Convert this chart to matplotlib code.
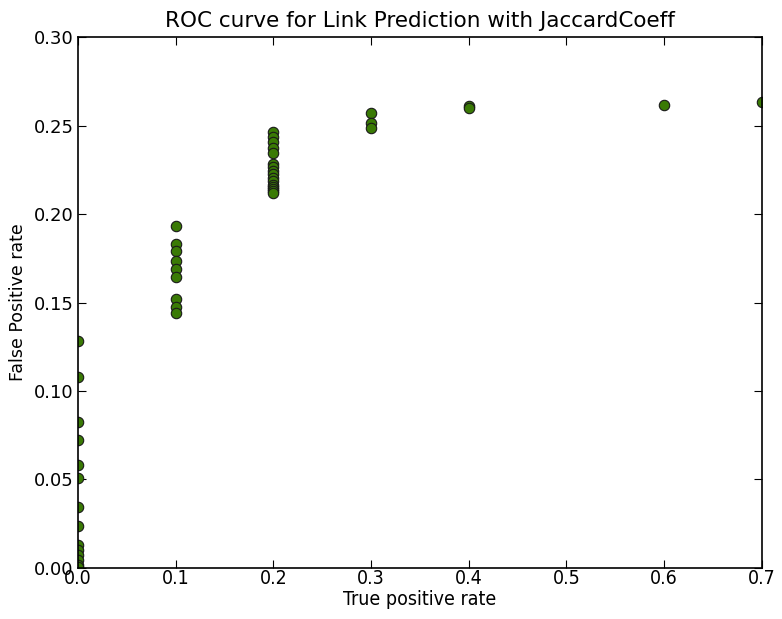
import matplotlib
matplotlib.use('Agg')
import matplotlib.pyplot as plt

# ROC points: (true positive rate, false positive rate) grouped by TPR level
tpr_0 = [0.0] * 14
fpr_0 = [0.128, 0.108, 0.0825, 0.0725, 0.058, 0.051, 0.0345, 0.0235,
         0.013, 0.010, 0.0073, 0.0045, 0.0017, 0.0005]

tpr_1 = [0.1] * 9
fpr_1 = [0.1935, 0.1832, 0.1789, 0.1735, 0.1692, 0.1642, 0.152, 0.1476, 0.1439]

tpr_2 = [0.2] * 16
fpr_2 = [0.2465, 0.2435, 0.2405, 0.2375, 0.2345, 0.2285, 0.2265, 0.2245,
         0.2225, 0.2205, 0.2185, 0.2165, 0.2150, 0.2140, 0.2130, 0.2118]

tpr_3 = [0.3, 0.3, 0.3]
fpr_3 = [0.2572, 0.2516, 0.2488]

tpr_rest = [0.4, 0.4, 0.6, 0.7]
fpr_rest = [0.2608, 0.2597, 0.2616, 0.2631]

tpr = tpr_0 + tpr_1 + tpr_2 + tpr_3 + tpr_rest
fpr = fpr_0 + fpr_1 + fpr_2 + fpr_3 + fpr_rest

fig = plt.figure(figsize=(7.82, 6.19), dpi=100)
ax = fig.add_axes([0.0997, 0.0824, 0.8743, 0.8578])

ax.plot(tpr, fpr, 'o', color='#3a7a05', markeredgecolor='#1a1a1a',
        markeredgewidth=0.8, markersize=7.5)

ax.set_xlim(0, 0.7)
ax.set_ylim(0, 0.30)
ax.set_xticks([0.0, 0.1, 0.2, 0.3, 0.4, 0.5, 0.6, 0.7])
ax.set_yticks([0.0, 0.05, 0.10, 0.15, 0.20, 0.25, 0.30])
ax.set_xticklabels(['0.0', '0.1', '0.2', '0.3', '0.4', '0.5', '0.6', '0.7'],
                   fontsize=14, stretch='condensed')
ax.set_yticklabels(['0.00', '0.05', '0.10', '0.15', '0.20', '0.25', '0.30'],
                   fontsize=13)
ax.tick_params(direction='in', length=6, width=0.8,
               top=True, right=True, pad=3)
ax.tick_params(axis='x', pad=1)
for s in ax.spines.values():
    s.set_linewidth(1.2)

ax.set_title('ROC curve for Link Prediction with JaccardCoeff', fontsize=15.5,
             pad=7)
ax.set_xlabel('True positive rate', fontsize=14, stretch='condensed',
              labelpad=1)
ax.set_ylabel('False Positive rate', fontsize=12.5, labelpad=5)

fig.savefig('out.png', dpi=100)
